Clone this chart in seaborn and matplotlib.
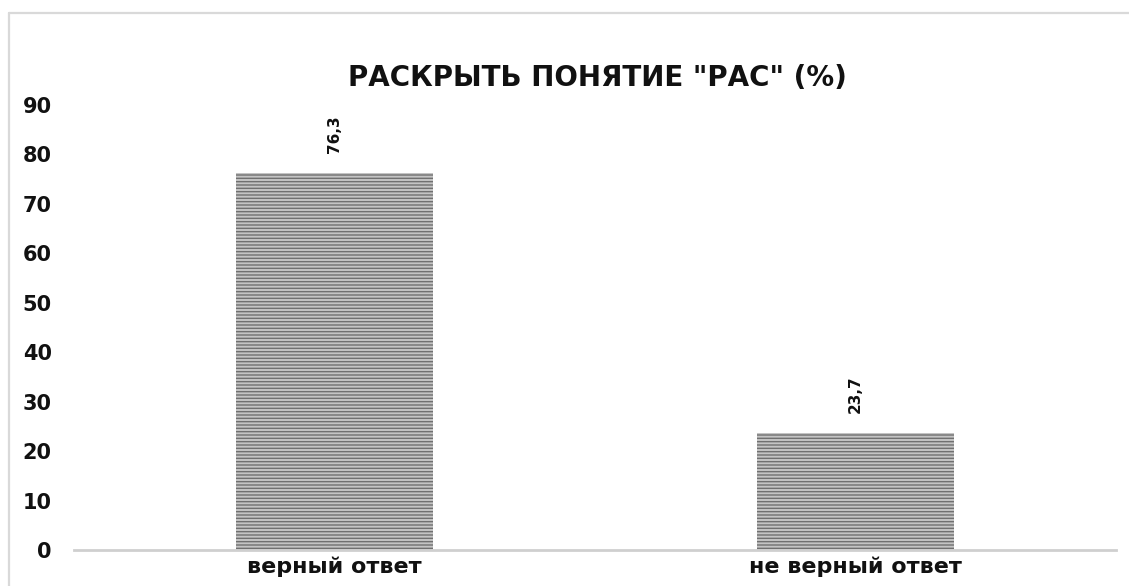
import matplotlib
matplotlib.use("Agg")
import matplotlib.pyplot as plt
import seaborn as sns
import pandas as pd
from matplotlib.lines import Line2D

# Data
categories = ["верный ответ", "не верный ответ"]
values = [76.3, 23.7]
yticks = [0, 10, 20, 30, 40, 50, 60, 70, 80, 90]
title = 'РАСКРЫТЬ ПОНЯТИЕ "РАС" (%)'

df = pd.DataFrame({"answer": categories, "percent": values})

W, H = 1129, 586
sns.set_theme(style="white")
plt.rcParams["font.family"] = ["DejaVu Sans"]
plt.rcParams["hatch.linewidth"] = 1.0

fig = plt.figure(figsize=(W / 100, H / 100), dpi=100)
ax = fig.add_axes([74 / W, 1 - 550 / H, 1042 / W, 445 / H])

sns.barplot(data=df, x="answer", y="percent", order=categories, width=0.378,
            color="#c4c4c4", saturation=1, ax=ax)
for bar in ax.patches:
    bar.set_hatch("-----")
    bar.set_edgecolor("#707070")
    bar.set_linewidth(0)

ax.set_xlim(-0.5, 1.5)
ax.set_ylim(0, 90)
ax.set_yticks(yticks)
ax.set_yticklabels([str(t) for t in yticks], fontsize=15, fontweight="bold", color="#111111")
ax.tick_params(axis="y", length=0, pad=16)
ax.tick_params(axis="x", length=0, pad=5, labelsize=16, labelcolor="#111111")
for lbl in ax.get_xticklabels():
    lbl.set_fontweight("bold")
ax.set_xlabel("")
ax.set_ylabel("")

for side in ["top", "right", "left"]:
    ax.spines[side].set_visible(False)
ax.spines["bottom"].set_color("#cfcfcf")
ax.spines["bottom"].set_linewidth(2)

ax.bar_label(ax.containers[0], labels=[f"{v:.1f}".replace(".", ",") for v in values],
             rotation=90, padding=14, fontsize=11, fontweight="bold", color="#111111")

fig.text(597 / W, 1 - 78 / H, title, ha="center", va="center", fontsize=20,
         fontweight="bold", color="#111111")

# chart frame
fig.add_artist(Line2D([8.5 / W, 8.5 / W], [0, 1 - 12.5 / H], color="#d9d9d9", lw=1.6))
fig.add_artist(Line2D([8.5 / W, 1], [1 - 12.5 / H, 1 - 12.5 / H], color="#d9d9d9", lw=1.6))

fig.savefig("out.png", dpi=100)
